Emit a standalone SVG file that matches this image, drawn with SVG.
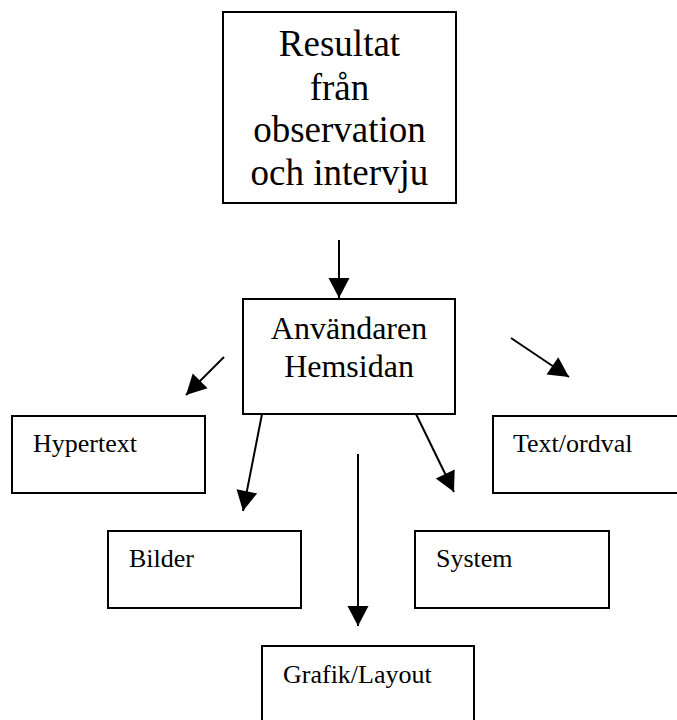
<svg xmlns="http://www.w3.org/2000/svg" width="677" height="720" viewBox="0 0 677 720">
  <style>
    .box { fill: #fff; stroke: #000; stroke-width: 2; }
    .t { font-family: "Liberation Serif", "Times New Roman", serif; fill: #000; }
    .big { font-size: 37px; text-anchor: middle; }
    .mid { font-size: 32px; text-anchor: middle; }
    .sm { font-size: 26px; }
    .conn line { stroke: #000; stroke-width: 2; marker-end: url(#ah); }
  </style>
  <defs>
    <marker id="ah" markerUnits="userSpaceOnUse" markerWidth="24" markerHeight="24" viewBox="-21 -12 23 24" refX="0" refY="0" orient="auto">
      <path d="M0,0 L-20,-10.5 L-20,10.5 Z" fill="#000"/>
    </marker>
  </defs>
  <rect width="677" height="720" fill="#fff"/>

  <g id="resultat">
    <rect class="box" x="223" y="12" width="233" height="191"/>
    <text class="t big" x="339.5" y="56">Resultat</text>
    <text class="t big" x="339.5" y="100">från</text>
    <text class="t big" x="339.5" y="142">observation</text>
    <text class="t big" x="339.5" y="185">och intervju</text>
  </g>

  <g id="anvandaren">
    <rect class="box" x="243" y="299" width="212" height="115"/>
    <text class="t mid" x="349" y="339">Användaren</text>
    <text class="t mid" x="349" y="377">Hemsidan</text>
  </g>

  <g id="hypertext">
    <rect class="box" x="12" y="416" width="193" height="77"/>
    <text class="t sm" x="33" y="452">Hypertext</text>
  </g>

  <g id="textordval">
    <rect class="box" x="493" y="416" width="190" height="77"/>
    <text class="t sm" x="513" y="452">Text/ordval</text>
  </g>

  <g id="bilder">
    <rect class="box" x="108" y="531" width="193" height="77"/>
    <text class="t sm" x="129" y="567">Bilder</text>
  </g>

  <g id="system">
    <rect class="box" x="415" y="531" width="194" height="77"/>
    <text class="t sm" x="436" y="567">System</text>
  </g>

  <g id="grafiklayout">
    <rect class="box" x="262" y="646" width="212" height="90"/>
    <text class="t sm" x="283" y="683">Grafik/Layout</text>
  </g>

  <g id="connectors" class="conn">
    <line x1="339" y1="240" x2="339" y2="298"/>
    <line x1="224" y1="357" x2="186" y2="395"/>
    <line x1="511" y1="338" x2="569" y2="377"/>
    <line x1="262" y1="414" x2="243" y2="511"/>
    <line x1="416" y1="414" x2="454" y2="492"/>
    <line x1="358" y1="454" x2="358" y2="626"/>
  </g>
</svg>
